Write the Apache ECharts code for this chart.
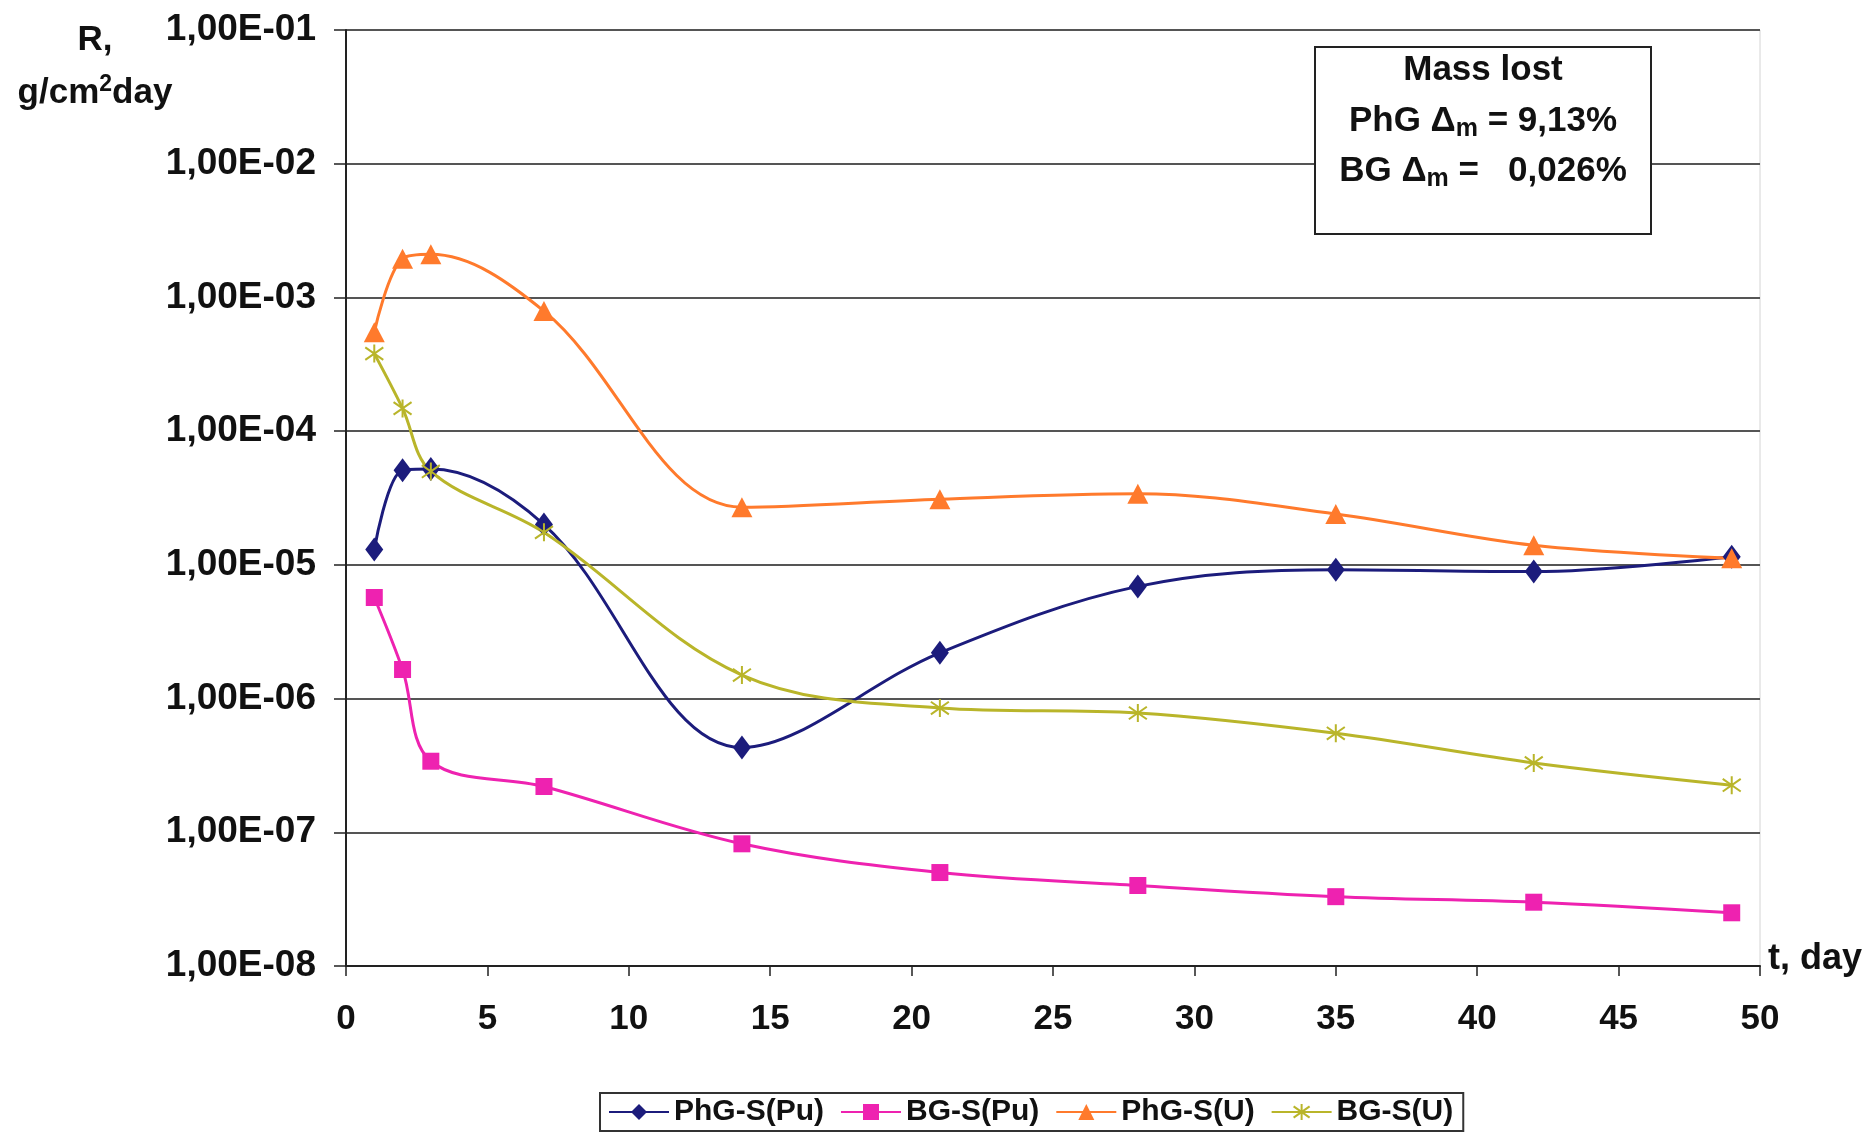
<!DOCTYPE html>
<html>
<head>
<meta charset="utf-8">
<script src="https://cdn.jsdelivr.net/npm/echarts@6/dist/echarts.min.js"></script>
<style>
html,body{margin:0;padding:0;background:#fff;}
#chart{width:1871px;height:1136px;}
</style>
</head>
<body>
<div id="chart"></div>
<script>
// ---- data ----
const days = [1, 2, 3, 7, 14, 21, 28, 35, 42, 49];
const phgPu = [1.3e-5, 5.1e-5, 5.2e-5, 2.0e-5, 4.3e-7, 2.2e-6, 6.9e-6, 9.2e-6, 8.9e-6, 1.15e-5];
const bgPu  = [5.7e-6, 1.65e-6, 3.4e-7, 2.2e-7, 8.2e-8, 5.0e-8, 4.0e-8, 3.3e-8, 3.0e-8, 2.5e-8];
const phgU  = [5.5e-4, 1.95e-3, 2.1e-3, 7.9e-4, 2.7e-5, 3.1e-5, 3.4e-5, 2.4e-5, 1.4e-5, 1.12e-5];
const bgU   = [3.8e-4, 1.48e-4, 5.0e-5, 1.75e-5, 1.5e-6, 8.5e-7, 7.8e-7, 5.5e-7, 3.3e-7, 2.25e-7];
const seriesNames = ['PhG-S(Pu)', 'BG-S(Pu)', 'PhG-S(U)', 'BG-S(U)'];
const xTicks = [0, 5, 10, 15, 20, 25, 30, 35, 40, 45, 50];

const FONT = '"Liberation Sans", Arial, sans-serif';
const colors = ['#1c1c7c', '#ee22b0', '#ff7a2c', '#b9b52a'];
const asterisk = 'path://M0,-10L0,10M-8,-7L8,7M-8,7L8,-7';

function pair(ys){ return days.map((d,i)=>[d, ys[i]]); }

const chart = echarts.init(document.getElementById('chart'), null, {renderer:'canvas'});
const option = {
  backgroundColor: '#fff',
  animation: false,
  grid: {left: 346, top: 30, width: 1414, height: 936, show: true, borderColor: '#d4d4d4', borderWidth: 1},
  xAxis: {
    type: 'value', min: 0, max: 50, interval: 5,
    axisLine: {show: true, onZero: false, lineStyle: {color: '#222', width: 2}},
    axisTick: {show: true, inside: false, length: 10, lineStyle: {color: '#222', width: 1.5}},
    axisLabel: {margin: 36, fontFamily: FONT, fontWeight: 'bold', fontSize: 35, color: '#111',
      formatter: v => xTicks.includes(v) ? String(v) : ''},
    splitLine: {show: false}
  },
  yAxis: {
    type: 'log', logBase: 10, min: 1e-8, max: 1e-1, interval: 1,
    axisLine: {show: true, lineStyle: {color: '#222', width: 2}},
    axisTick: {show: true, inside: false, length: 12, lineStyle: {color: '#222', width: 1.5}},
    axisLabel: {margin: 30, fontFamily: FONT, fontWeight: 'bold', fontSize: 37, color: '#111',
      formatter: v => {
        const e = Math.round(Math.log10(v));
        const a = Math.abs(e);
        return '1,00E' + (e < 0 ? '-' : '+') + (a < 10 ? '0' + a : a);
      }},
    splitLine: {show: true, lineStyle: {color: '#555', width: 2}}
  },
  legend: {
    data: seriesNames,
    left: 600, top: 1093,
    itemWidth: 60, itemHeight: 20, itemGap: 16,
    padding: [4, 10, 4, 8],
    borderColor: '#333', borderWidth: 2,
    textStyle: {fontFamily: FONT, fontWeight: 'bold', fontSize: 30, color: '#111'}
  },
  graphic: [
    {type: 'text', x: 95, y: 40, style: {text: 'R,', font: 'bold 35px ' + FONT, fill: '#111', align: 'center', verticalAlign: 'middle'}},
    {type: 'text', x: 95, y: 93, style: {
      text: '{a|g/cm}{s|2}{a|day}', fill: '#111', align: 'center', verticalAlign: 'middle',
      rich: {a: {font: 'bold 35px ' + FONT, fill: '#111'},
             s: {font: 'bold 23px ' + FONT, fill: '#111', padding: [0,0,16,0]}}
    }},
    {type: 'text', x: 1768, y: 959, style: {text: 't, day', font: 'bold 36px ' + FONT, fill: '#111', verticalAlign: 'middle'}},
    {type: 'rect', shape: {x: 1315, y: 47, width: 336, height: 187},
      style: {fill: '#fff', stroke: '#222', lineWidth: 2}, z: 10},
    {type: 'text', x: 1483, y: 70, z: 11, style: {text: 'Mass lost', font: 'bold 35px ' + FONT, fill: '#111', align: 'center', verticalAlign: 'middle'}},
    {type: 'text', x: 1483, y: 121, z: 11, style: {
      text: '{t|PhG Δ}{s|m}{t| = 9,13%}', align: 'center', verticalAlign: 'middle',
      rich: {t: {font: 'bold 35px ' + FONT, fill: '#111'}, s: {font: 'bold 25px ' + FONT, fill: '#111', padding: [16,0,0,0]}}
    }},
    {type: 'text', x: 1483, y: 171, z: 11, style: {
      text: '{t|BG Δ}{s|m}{t| =   0,026%}', align: 'center', verticalAlign: 'middle',
      rich: {t: {font: 'bold 35px ' + FONT, fill: '#111'}, s: {font: 'bold 25px ' + FONT, fill: '#111', padding: [16,0,0,0]}}
    }}
  ],
  series: [
    {name: seriesNames[0], type: 'line', data: pair(phgPu), smooth: 0.35,
      symbol: 'diamond', symbolSize: [18, 24], color: colors[0],
      lineStyle: {width: 3, color: colors[0]}, itemStyle: {color: colors[0]}},
    {name: seriesNames[1], type: 'line', data: pair(bgPu), smooth: 0.35,
      symbol: 'rect', symbolSize: 17, color: colors[1],
      lineStyle: {width: 3, color: colors[1]}, itemStyle: {color: colors[1]}},
    {name: seriesNames[2], type: 'line', data: pair(phgU), smooth: 0.35,
      symbol: 'triangle', symbolSize: [21, 20], color: colors[2],
      lineStyle: {width: 3, color: colors[2]}, itemStyle: {color: colors[2]}},
    {name: seriesNames[3], type: 'line', data: pair(bgU), smooth: 0.35,
      symbol: asterisk, symbolSize: 18, color: colors[3],
      lineStyle: {width: 3, color: colors[3]},
      itemStyle: {color: colors[3], borderColor: colors[3], borderWidth: 2}}
  ]
};
chart.setOption(option);
</script>
</body>
</html>
